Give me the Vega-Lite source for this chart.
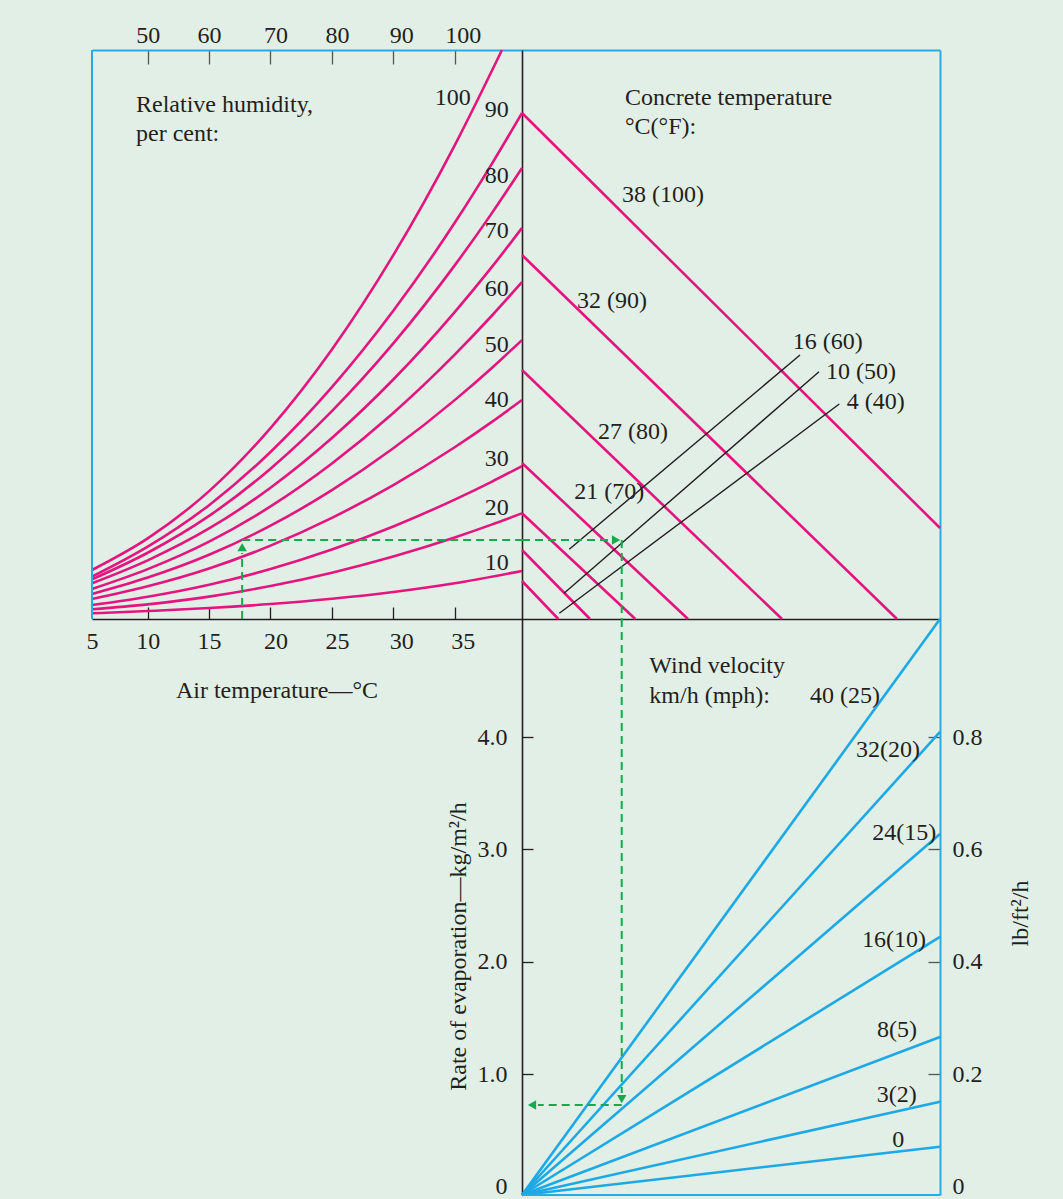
{
  "$schema": "https://vega.github.io/schema/vega-lite/v6.json",
  "width": 848,
  "height": 1145,
  "autosize": {"type": "none"},
  "padding": {"left": 92, "top": 50, "right": 123, "bottom": 4},
  "background": "#E2EFE6",
  "config": {
    "view": {"stroke": null},
    "font": "Liberation Serif",
    "axis": {"labelFont": "Liberation Serif", "titleFont": "Liberation Serif", "labelFontSize": 24, "titleFontSize": 24, "labelColor": "#231F20", "titleColor": "#231F20", "titleFontWeight": "normal", "grid": false, "labelFlush": false, "labelOverlap": false},
    "text": {"font": "Liberation Serif", "fontSize": 24, "color": "#231F20"}
  },
  "datasets": {
    "humidity": [
      {"rh": 10, "T": 5, "vp": 0.075}, {"rh": 10, "T": 10, "vp": 0.105}, {"rh": 10, "T": 15, "vp": 0.144}, {"rh": 10, "T": 20, "vp": 0.197}, {"rh": 10, "T": 25, "vp": 0.266}, {"rh": 10, "T": 30, "vp": 0.355}, {"rh": 10, "T": 35, "vp": 0.470}, {"rh": 10, "T": 40.48, "vp": 0.632},
      {"rh": 20, "T": 5, "vp": 0.128}, {"rh": 20, "T": 10, "vp": 0.192}, {"rh": 20, "T": 15, "vp": 0.294}, {"rh": 20, "T": 20, "vp": 0.434}, {"rh": 20, "T": 25, "vp": 0.610}, {"rh": 20, "T": 30, "vp": 0.823}, {"rh": 20, "T": 35, "vp": 1.073}, {"rh": 20, "T": 38, "vp": 1.242}, {"rh": 20, "T": 40.48, "vp": 1.391},
      {"rh": 30, "T": 5, "vp": 0.184}, {"rh": 30, "T": 10, "vp": 0.294}, {"rh": 30, "T": 15, "vp": 0.452}, {"rh": 30, "T": 20, "vp": 0.658}, {"rh": 30, "T": 25, "vp": 0.914}, {"rh": 30, "T": 30, "vp": 1.218}, {"rh": 30, "T": 35, "vp": 1.571}, {"rh": 30, "T": 38, "vp": 1.805}, {"rh": 30, "T": 40.48, "vp": 2.013},
      {"rh": 40, "T": 5, "vp": 0.263}, {"rh": 40, "T": 10, "vp": 0.431}, {"rh": 40, "T": 15, "vp": 0.665}, {"rh": 40, "T": 20, "vp": 0.965}, {"rh": 40, "T": 25, "vp": 1.331}, {"rh": 40, "T": 30, "vp": 1.763}, {"rh": 40, "T": 35, "vp": 2.260}, {"rh": 40, "T": 38, "vp": 2.591}, {"rh": 40, "T": 40.48, "vp": 2.882},
      {"rh": 50, "T": 5, "vp": 0.329}, {"rh": 50, "T": 10, "vp": 0.545}, {"rh": 50, "T": 15, "vp": 0.845}, {"rh": 50, "T": 20, "vp": 1.228}, {"rh": 50, "T": 25, "vp": 1.695}, {"rh": 50, "T": 30, "vp": 2.246}, {"rh": 50, "T": 35, "vp": 2.880}, {"rh": 50, "T": 38, "vp": 3.300}, {"rh": 50, "T": 40.48, "vp": 3.671},
      {"rh": 60, "T": 5, "vp": 0.395}, {"rh": 60, "T": 10, "vp": 0.656}, {"rh": 60, "T": 15, "vp": 1.018}, {"rh": 60, "T": 20, "vp": 1.481}, {"rh": 60, "T": 25, "vp": 2.046}, {"rh": 60, "T": 30, "vp": 2.711}, {"rh": 60, "T": 35, "vp": 3.478}, {"rh": 60, "T": 38, "vp": 3.987}, {"rh": 60, "T": 40.48, "vp": 4.434},
      {"rh": 70, "T": 5, "vp": 0.470}, {"rh": 70, "T": 10, "vp": 0.772}, {"rh": 70, "T": 15, "vp": 1.191}, {"rh": 70, "T": 20, "vp": 1.727}, {"rh": 70, "T": 25, "vp": 2.381}, {"rh": 70, "T": 30, "vp": 3.151}, {"rh": 70, "T": 35, "vp": 4.038}, {"rh": 70, "T": 38, "vp": 4.626}, {"rh": 70, "T": 40.48, "vp": 5.145},
      {"rh": 80, "T": 5, "vp": 0.522}, {"rh": 80, "T": 10, "vp": 0.872}, {"rh": 80, "T": 15, "vp": 1.357}, {"rh": 80, "T": 20, "vp": 1.978}, {"rh": 80, "T": 25, "vp": 2.735}, {"rh": 80, "T": 30, "vp": 3.626}, {"rh": 80, "T": 35, "vp": 4.653}, {"rh": 80, "T": 38, "vp": 5.334}, {"rh": 80, "T": 40.48, "vp": 5.934},
      {"rh": 90, "T": 5, "vp": 0.557}, {"rh": 90, "T": 10, "vp": 0.951}, {"rh": 90, "T": 15, "vp": 1.498}, {"rh": 90, "T": 20, "vp": 2.198}, {"rh": 90, "T": 25, "vp": 3.051}, {"rh": 90, "T": 30, "vp": 4.056}, {"rh": 90, "T": 35, "vp": 5.213}, {"rh": 90, "T": 38, "vp": 5.982}, {"rh": 90, "T": 40.48, "vp": 6.658},
      {"rh": 100, "T": 5, "vp": 0.645}, {"rh": 100, "T": 10, "vp": 1.061}, {"rh": 100, "T": 15, "vp": 1.683}, {"rh": 100, "T": 20, "vp": 2.512}, {"rh": 100, "T": 25, "vp": 3.546}, {"rh": 100, "T": 30, "vp": 4.787}, {"rh": 100, "T": 35, "vp": 6.233}, {"rh": 100, "T": 38.85, "vp": 7.487}
    ],
    "humidityLabels": [
      {"label": "10", "T": 38.42, "vp": 0.733}, {"label": "20", "T": 38.42, "vp": 1.457}, {"label": "30", "T": 38.42, "vp": 2.105},
      {"label": "40", "T": 38.42, "vp": 2.882}, {"label": "50", "T": 38.42, "vp": 3.605}, {"label": "60", "T": 38.42, "vp": 4.342},
      {"label": "70", "T": 38.42, "vp": 5.105}, {"label": "80", "T": 38.42, "vp": 5.829}, {"label": "90", "T": 38.42, "vp": 6.697},
      {"label": "100", "T": 34.84, "vp": 6.851}
    ],
    "concrete": [
      {"tc": "4 (40)", "de": 0, "vp": 0.5}, {"tc": "4 (40)", "de": 0.478, "vp": 0},
      {"tc": "10 (50)", "de": 0, "vp": 0.908}, {"tc": "10 (50)", "de": 0.895, "vp": 0},
      {"tc": "16 (60)", "de": 0, "vp": 1.391}, {"tc": "16 (60)", "de": 1.491, "vp": 0},
      {"tc": "21 (70)", "de": 0, "vp": 2.053}, {"tc": "21 (70)", "de": 2.184, "vp": 0},
      {"tc": "27 (80)", "de": 0, "vp": 3.276}, {"tc": "27 (80)", "de": 3.421, "vp": 0},
      {"tc": "32 (90)", "de": 0, "vp": 4.789}, {"tc": "32 (90)", "de": 4.934, "vp": 0},
      {"tc": "38 (100)", "de": 0, "vp": 6.658}, {"tc": "38 (100)", "de": 5.5, "vp": 1.197}
    ],
    "leaders": [
      {"tc": "16 (60)", "x1": 0.622, "y1": 0.917, "x2": 3.658, "y2": 3.474},
      {"tc": "10 (50)", "x1": 0.553, "y1": 0.338, "x2": 3.908, "y2": 3.254},
      {"tc": "4 (40)", "x1": 0.491, "y1": 0.075, "x2": 4.175, "y2": 2.829}
    ],
    "concreteLabels": [
      {"label": "38 (100)", "de": 1.316, "vp": 5.579}, {"label": "32 (90)", "de": 0.724, "vp": 4.184},
      {"label": "27 (80)", "de": 1.0, "vp": 2.461}, {"label": "21 (70)", "de": 0.688, "vp": 1.675},
      {"label": "16 (60)", "de": 3.562, "vp": 3.649}, {"label": "10 (50)", "de": 4.0, "vp": 3.254},
      {"label": "4 (40)", "de": 4.272, "vp": 2.859}
    ],
    "wind": [
      {"wind": "40 (25)", "de": 0, "rate": 0}, {"wind": "40 (25)", "de": 5.5, "rate": 5.051},
      {"wind": "32(20)", "de": 0, "rate": 0}, {"wind": "32(20)", "de": 5.5, "rate": 4.045},
      {"wind": "24(15)", "de": 0, "rate": 0}, {"wind": "24(15)", "de": 5.5, "rate": 3.137},
      {"wind": "16(10)", "de": 0, "rate": 0}, {"wind": "16(10)", "de": 5.5, "rate": 2.22},
      {"wind": "8(5)", "de": 0, "rate": 0}, {"wind": "8(5)", "de": 5.5, "rate": 1.329},
      {"wind": "3(2)", "de": 0, "rate": 0}, {"wind": "3(2)", "de": 5.5, "rate": 0.771},
      {"wind": "0", "de": 0, "rate": 0}, {"wind": "0", "de": 5.5, "rate": 0.399}
    ],
    "windLabels": [
      {"label": "40 (25)", "de": 3.789, "rate": 4.365}, {"label": "32(20)", "de": 4.395, "rate": 3.884},
      {"label": "24(15)", "de": 4.609, "rate": 3.143}, {"label": "16(10)", "de": 4.474, "rate": 2.193},
      {"label": "8(5)", "de": 4.671, "rate": 1.392}, {"label": "3(2)", "de": 4.667, "rate": 0.826},
      {"label": "0", "de": 4.872, "rate": 0.455}
    ],
    "exampleTL": [
      {"x1": 17.69, "y1": 0, "x2": 17.69, "y2": 0.868},
      {"x1": 17.69, "y1": 1.039, "x2": 40.48, "y2": 1.039}
    ],
    "exampleTR": [
      {"x1": 0, "y1": 1.039, "x2": 1.158, "y2": 1.039},
      {"x1": 1.312, "y1": 1.039, "x2": 1.312, "y2": 0}
    ],
    "exampleBR": [
      {"x1": 1.312, "y1": 5.051, "x2": 1.312, "y2": 0.843},
      {"x1": 1.312, "y1": 0.744, "x2": 0.21, "y2": 0.744}
    ],
    "arrowTL": [{"x": 17.69, "y": 0.947, "shape": "triangle-up"}],
    "arrowTR": [{"x": 1.237, "y": 1.039, "shape": "triangle-right"}],
    "arrowBR": [{"x": 1.312, "y": 0.793, "shape": "triangle-down"}, {"x": 0.132, "y": 0.744, "shape": "triangle-left"}]
  },
  "layer": [
    {
      "layer": [
        {
          "data": {"name": "humidity"},
          "mark": {"type": "line", "color": "#E4157F", "strokeWidth": 2.6, "interpolate": "monotone"},
          "encoding": {
            "x": {"field": "T", "type": "quantitative",
              "scale": {"type": "linear", "domain": [5, 10, 74.52], "range": [0, 55.7, 848], "nice": false, "zero": false},
              "axis": {"orient": "bottom", "offset": -576, "values": [5, 10, 15, 20, 25, 30, 35], "format": "d",
                "domainColor": "#231F20", "domainWidth": 1.6, "tickColor": "#231F20", "tickWidth": 1.3, "tickSize": -12,
                "tickOpacity": {"condition": {"test": "datum.value == 5", "value": 0}, "value": 1},
                "labelPadding": 22,
                "labelOffset": {"condition": [{"test": "datum.value >= 30", "value": 8}, {"test": "datum.value >= 20", "value": 5}], "value": 0},
                "title": "Air temperature—°C", "titleX": 184.5, "titleY": 78, "titleBaseline": "alphabetic", "titleAlign": "center", "titleAngle": 0}},
            "y": {"field": "vp", "type": "quantitative", "scale": {"domain": [-7.579, 7.487], "nice": false, "zero": false}, "axis": null},
            "detail": {"field": "rh", "type": "nominal"},
            "order": {"field": "T", "type": "quantitative"}
          }
        },
        {
          "data": {"name": "humidityLabels"},
          "mark": {"type": "text", "align": "center", "baseline": "middle"},
          "encoding": {
            "x": {"field": "T", "type": "quantitative", "axis": null},
            "y": {"field": "vp", "type": "quantitative", "axis": null},
            "text": {"field": "label", "type": "nominal"}
          }
        },
        {
          "data": {"values": [{}]},
          "mark": {"type": "text", "text": ["Relative humidity,", "per cent:"], "align": "left", "baseline": "alphabetic", "lineHeight": 29},
          "encoding": {
            "x": {"datum": 8.95, "type": "quantitative", "axis": null},
            "y": {"datum": 6.675, "type": "quantitative", "axis": null}
          }
        },
        {
          "data": {"name": "exampleTL"},
          "mark": {"type": "rule", "color": "#17A94E", "strokeWidth": 2, "strokeDash": [8, 5]},
          "encoding": {
            "x": {"field": "x1", "type": "quantitative", "axis": null}, "x2": {"field": "x2"},
            "y": {"field": "y1", "type": "quantitative", "axis": null}, "y2": {"field": "y2"}
          }
        },
        {
          "data": {"name": "arrowTL"},
          "mark": {"type": "point", "filled": true, "color": "#17A94E", "opacity": 1, "size": 90},
          "encoding": {
            "x": {"field": "x", "type": "quantitative", "axis": null},
            "y": {"field": "y", "type": "quantitative", "axis": null},
            "shape": {"field": "shape", "type": "nominal", "scale": null}
          }
        },
        {
          "data": {"values": [{}]},
          "mark": {"type": "rule", "color": "#29ABE2", "strokeWidth": 2},
          "encoding": {
            "x": {"datum": 5, "type": "quantitative",
              "axis": {"orient": "top", "values": [10, 15, 20, 25, 30, 35], "labelExpr": "format(30 + 2 * datum.value, 'd')",
                "domainColor": "#29ABE2", "domainWidth": 2, "tickColor": "#555555", "tickWidth": 1.3, "tickSize": -14,
                "labelPadding": 17,
                "labelOffset": {"condition": [{"test": "datum.value >= 30", "value": 8}, {"test": "datum.value >= 20", "value": 5}], "value": 0},
                "title": null}},
            "y": {"datum": 0, "type": "quantitative", "axis": null},
            "y2": {"datum": 7.487}
          }
        }
      ],
      "resolve": {"axis": {"x": "independent"}}
    },
    {
      "layer": [
        {
          "data": {"name": "concrete"},
          "mark": {"type": "line", "color": "#E4157F", "strokeWidth": 2.6},
          "encoding": {
            "x": {"field": "de", "type": "quantitative", "scale": {"domain": [-5.658, 5.5], "nice": false, "zero": false}, "axis": null},
            "y": {"field": "vp", "type": "quantitative", "scale": {"domain": [-7.579, 7.487], "nice": false, "zero": false}, "axis": null},
            "detail": {"field": "tc", "type": "nominal"}
          }
        },
        {
          "data": {"name": "leaders"},
          "mark": {"type": "rule", "color": "#231F20", "strokeWidth": 1.4},
          "encoding": {
            "x": {"field": "x1", "type": "quantitative", "axis": null}, "x2": {"field": "x2"},
            "y": {"field": "y1", "type": "quantitative", "axis": null}, "y2": {"field": "y2"}
          }
        },
        {
          "data": {"name": "concreteLabels"},
          "mark": {"type": "text", "align": "left", "baseline": "middle"},
          "encoding": {
            "x": {"field": "de", "type": "quantitative", "axis": null},
            "y": {"field": "vp", "type": "quantitative", "axis": null},
            "text": {"field": "label", "type": "nominal"}
          }
        },
        {
          "data": {"values": [{}]},
          "mark": {"type": "text", "text": ["Concrete temperature", "°C(°F):"], "align": "left", "baseline": "alphabetic", "lineHeight": 28.5},
          "encoding": {
            "x": {"datum": 1.355, "type": "quantitative", "axis": null},
            "y": {"datum": 6.763, "type": "quantitative", "axis": null}
          }
        },
        {
          "data": {"name": "exampleTR"},
          "mark": {"type": "rule", "color": "#17A94E", "strokeWidth": 2, "strokeDash": [8, 5]},
          "encoding": {
            "x": {"field": "x1", "type": "quantitative", "axis": null}, "x2": {"field": "x2"},
            "y": {"field": "y1", "type": "quantitative", "axis": null}, "y2": {"field": "y2"}
          }
        },
        {
          "data": {"name": "arrowTR"},
          "mark": {"type": "point", "filled": true, "color": "#17A94E", "opacity": 1, "size": 90},
          "encoding": {
            "x": {"field": "x", "type": "quantitative", "axis": null},
            "y": {"field": "y", "type": "quantitative", "axis": null},
            "shape": {"field": "shape", "type": "nominal", "scale": null}
          }
        }
      ]
    },
    {
      "layer": [
        {
          "data": {"name": "wind"},
          "mark": {"type": "line", "color": "#1CA9E6", "strokeWidth": 2.6},
          "encoding": {
            "x": {"field": "de", "type": "quantitative", "scale": {"domain": [-5.658, 5.5], "nice": false, "zero": false}, "axis": null},
            "y": {"field": "rate", "type": "quantitative",
              "scale": {"type": "linear", "domain": [0, 1, 10.116], "range": [1145, 1024, 0], "nice": false, "zero": false},
              "axis": {"orient": "left", "offset": -430, "values": [0, 1, 2, 3, 4],
                "labelExpr": "datum.value == 0 ? '0' : format(datum.value, '.1f')",
                "domainColor": "#231F20", "domainWidth": 1.6, "tickColor": "#231F20", "tickWidth": 1.3, "tickSize": -11,
                "tickOpacity": {"condition": {"test": "datum.value == 0", "value": 0}, "value": 1},
                "labelPadding": 26, "labelAlign": "right", "labelBaseline": "middle",
                "labelOffset": {"condition": {"test": "datum.value == 0", "value": -9}, "value": 0},
                "title": "Rate of evaporation—kg/m²/h", "titleAngle": 270, "titleX": -57, "titleY": 896, "titleBaseline": "alphabetic", "titleAlign": "center"}},
            "detail": {"field": "wind", "type": "nominal"}
          }
        },
        {
          "data": {"name": "windLabels"},
          "mark": {"type": "text", "align": "left", "baseline": "middle"},
          "encoding": {
            "x": {"field": "de", "type": "quantitative", "axis": null},
            "y": {"field": "rate", "type": "quantitative", "axis": null},
            "text": {"field": "label", "type": "nominal"}
          }
        },
        {
          "data": {"values": [{}]},
          "mark": {"type": "text", "text": ["Wind velocity", "km/h (mph):"], "align": "left", "baseline": "alphabetic", "lineHeight": 30},
          "encoding": {
            "x": {"datum": 1.675, "type": "quantitative", "axis": null},
            "y": {"datum": 4.567, "type": "quantitative", "axis": null}
          }
        },
        {
          "data": {"name": "exampleBR"},
          "mark": {"type": "rule", "color": "#17A94E", "strokeWidth": 2, "strokeDash": [8, 5]},
          "encoding": {
            "x": {"field": "x1", "type": "quantitative", "axis": null}, "x2": {"field": "x2"},
            "y": {"field": "y1", "type": "quantitative", "axis": null}, "y2": {"field": "y2"}
          }
        },
        {
          "data": {"name": "arrowBR"},
          "mark": {"type": "point", "filled": true, "color": "#17A94E", "opacity": 1, "size": 90},
          "encoding": {
            "x": {"field": "x", "type": "quantitative", "axis": null},
            "y": {"field": "y", "type": "quantitative", "axis": null},
            "shape": {"field": "shape", "type": "nominal", "scale": null}
          }
        },
        {
          "data": {"values": [{}]},
          "mark": {"type": "rule", "color": "#29ABE2", "strokeWidth": 2},
          "encoding": {
            "x": {"datum": 0, "type": "quantitative", "axis": null},
            "x2": {"datum": 5.5},
            "y": {"datum": 0, "type": "quantitative",
              "axis": {"orient": "right", "values": [0, 1, 2, 3, 4],
                "labelExpr": "datum.value == 0 ? '0' : format(datum.value * 0.2, '.1f')",
                "domainColor": "#29ABE2", "domainWidth": 2, "tickColor": "#555555", "tickWidth": 1.3, "tickSize": -12,
                "tickOpacity": {"condition": {"test": "datum.value == 0", "value": 0}, "value": 1},
                "labelPadding": 24, "labelAlign": "left", "labelBaseline": "middle",
                "labelOffset": {"condition": {"test": "datum.value == 0", "value": -9}, "value": 0},
                "title": "lb/ft²/h", "titleAngle": 270, "titleX": 87, "titleY": 863, "titleBaseline": "alphabetic", "titleAlign": "center"}}
          }
        }
      ],
      "resolve": {"axis": {"y": "independent"}}
    }
  ],
  "resolve": {"scale": {"x": "independent", "y": "independent"}, "axis": {"x": "independent", "y": "independent"}}
}
